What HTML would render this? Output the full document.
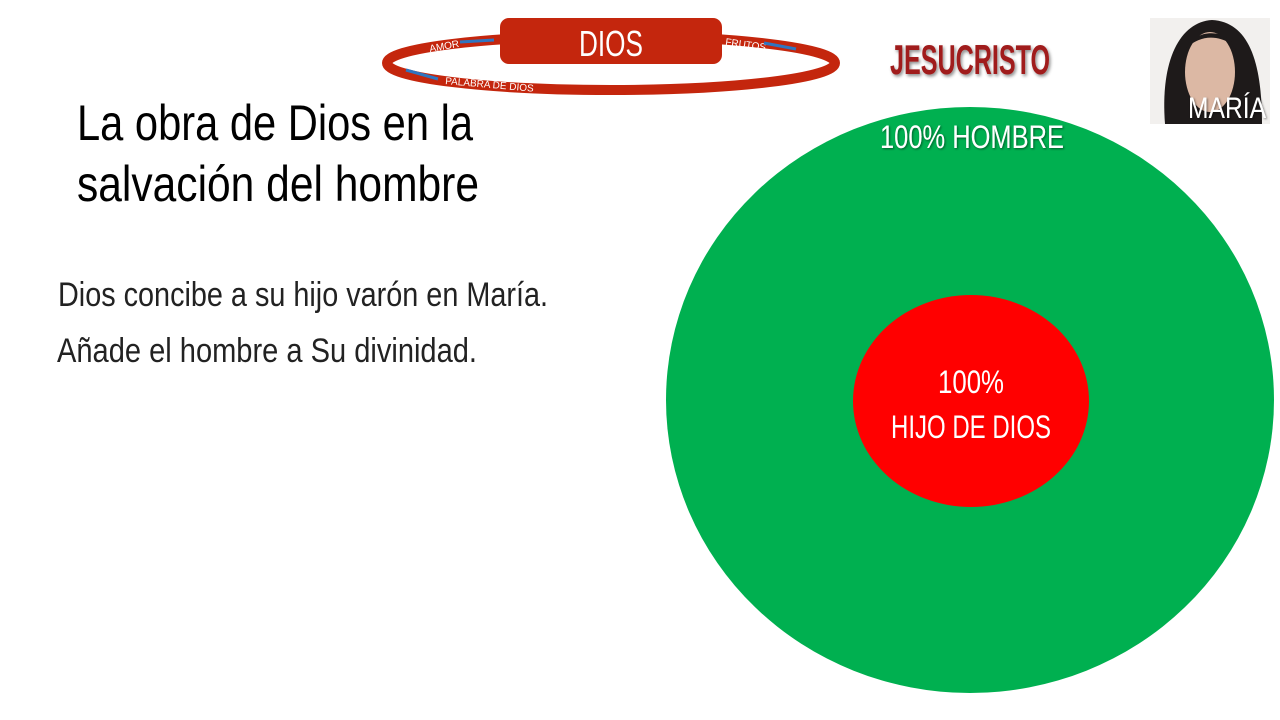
<!DOCTYPE html>
<html><head><meta charset="utf-8"><style>
html,body{margin:0;padding:0;background:#fff;width:1280px;height:720px;overflow:hidden}
</style></head><body>
<svg width="1280" height="720" xmlns="http://www.w3.org/2000/svg" font-family="Liberation Sans, sans-serif">
<defs>
<filter id="sh" x="-10%" y="-10%" width="120%" height="130%"><feDropShadow dx="1.5" dy="2" stdDeviation="1.5" flood-color="#000" flood-opacity="0.45"/></filter>
<filter id="ws" x="-10%" y="-10%" width="120%" height="130%"><feDropShadow dx="1" dy="1" stdDeviation="1" flood-color="#000" flood-opacity="0.5"/></filter>
</defs>
<rect width="1280" height="720" fill="#fff"/>
<!-- circles -->
<ellipse cx="970" cy="400" rx="304" ry="293" fill="#00b050"/>
<ellipse cx="971" cy="401" rx="118" ry="106" fill="#ff0000"/>
<text x="972" y="148" fill="#fff" font-size="32" text-anchor="middle" textLength="184" lengthAdjust="spacingAndGlyphs" filter="url(#ws)">100% HOMBRE</text>
<text x="971" y="393" fill="#fff" font-size="32" text-anchor="middle" textLength="66" lengthAdjust="spacingAndGlyphs">100%</text>
<text x="971" y="438" fill="#fff" font-size="32" text-anchor="middle" textLength="160" lengthAdjust="spacingAndGlyphs">HIJO DE DIOS</text>
<!-- ring -->
<ellipse cx="611" cy="63" rx="224" ry="27" fill="none" stroke="#c4260d" stroke-width="10"/>
<rect x="500" y="18" width="222" height="46" rx="9" fill="#c4260d"/>
<text x="611" y="56" fill="#fff" font-size="36" text-anchor="middle" textLength="64" lengthAdjust="spacingAndGlyphs">DIOS</text>
<text x="430" y="52" fill="#fff" font-size="10" transform="rotate(-10 430 52)">AMOR</text>
<line x1="460" y1="42" x2="494" y2="40" stroke="#2f75c0" stroke-width="3"/>
<text x="725" y="45" fill="#fff" font-size="10" transform="rotate(8 725 45)">FRUTOS</text>
<line x1="764" y1="43" x2="796" y2="49" stroke="#2f75c0" stroke-width="3"/>
<line x1="406" y1="70" x2="438" y2="79" stroke="#2f75c0" stroke-width="3"/>
<text x="445" y="84" fill="#fff" font-size="10" transform="rotate(5 445 84)">PALABRA DE DIOS</text>
<!-- JESUCRISTO -->
<text x="890" y="74" fill="#a01a1a" font-size="42" font-weight="bold" textLength="160" lengthAdjust="spacingAndGlyphs" filter="url(#sh)">JESUCRISTO</text>
<!-- photo -->
<rect x="1150" y="18" width="120" height="106" fill="#f2f0ee"/>
<path d="M1165 124 C1160 60 1180 22 1212 20 C1248 22 1262 60 1262 124 Z" fill="#1e1a1a"/>
<ellipse cx="1210" cy="72" rx="25" ry="40" fill="#dcb8a4"/>
<path d="M1186 48 C1195 28 1230 28 1236 50 L1232 44 C1215 34 1200 36 1186 48 Z" fill="#1e1a1a"/>
<text x="1188" y="118" fill="#fff" font-size="30" textLength="78" lengthAdjust="spacingAndGlyphs" filter="url(#ws)">MARÍA</text>
<!-- title -->
<text x="77" y="140" fill="#000" font-size="50" textLength="396" lengthAdjust="spacingAndGlyphs">La obra de Dios en la</text>
<text x="77" y="201" fill="#000" font-size="50" textLength="402" lengthAdjust="spacingAndGlyphs">salvación del hombre</text>
<!-- body -->
<text x="58" y="306" fill="#222" font-size="34" textLength="490" lengthAdjust="spacingAndGlyphs">Dios concibe a su hijo varón en María.</text>
<text x="57" y="362" fill="#222" font-size="34" textLength="420" lengthAdjust="spacingAndGlyphs">Añade el hombre a Su divinidad.</text>
</svg>
</body></html>
